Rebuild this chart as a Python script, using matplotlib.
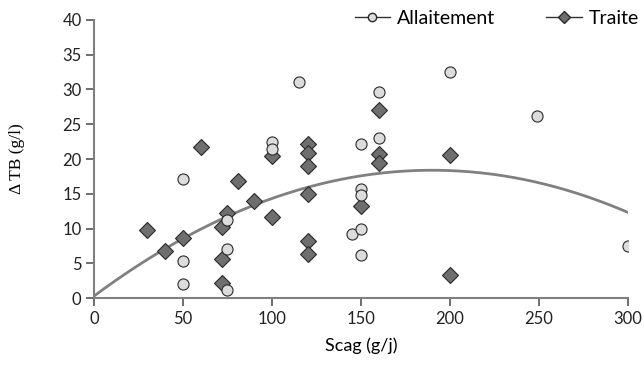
import numpy as np
import matplotlib
matplotlib.use("Agg")
import matplotlib.pyplot as plt

# data
allait_x = [50, 50, 50, 75, 75, 75, 100, 100, 115, 145, 150, 150, 150, 150, 150, 160, 160, 200, 249, 300]
allait_y = [17.2, 5.3, 2.1, 11.3, 7.1, 1.2, 22.4, 21.4, 31.1, 9.2, 22.2, 15.7, 14.8, 10.0, 6.2, 29.6, 23.0, 32.5, 26.2, 7.5]

traite_x = [30, 40, 50, 60, 72, 75, 72, 72, 81, 90, 100, 100, 120, 120, 120, 120, 120, 120, 150, 160, 160, 160, 200, 200]
traite_y = [9.8, 6.8, 8.6, 21.7, 10.2, 12.2, 5.6, 2.2, 16.8, 14.0, 20.5, 11.7, 22.1, 20.8, 19.0, 15.0, 8.2, 6.4, 13.3, 27.0, 20.7, 19.5, 20.6, 3.3]

# quadratic trend line coefficients (c0, c1, c2)
trend_coef = [0.3, 0.1904, -0.000501]

GREY = "#808080"

fig = plt.figure(figsize=(6.44, 3.69), dpi=100)
ax = fig.add_axes([0.146, 0.192, 0.829, 0.754])

xs = np.linspace(0, 300, 200)
ax.plot(xs, trend_coef[0] + trend_coef[1] * xs + trend_coef[2] * xs ** 2,
        color=GREY, linewidth=2, zorder=2)

ax.plot(traite_x, traite_y, linestyle="none", marker="D", markersize=7.8,
        markerfacecolor="#6e6e6e", markeredgecolor="#2a2a2a", markeredgewidth=0.8,
        zorder=3)
ax.plot(allait_x, allait_y, linestyle="none", marker="o", markersize=8,
        markerfacecolor="#dcdcdc", markeredgecolor="#2a2a2a", markeredgewidth=0.8,
        zorder=4)

# legend handles with line through the marker
h1, = ax.plot([], [], color="#333333", linewidth=1, marker="o", markersize=6,
              markerfacecolor="#dcdcdc", markeredgecolor="#2a2a2a")
h2, = ax.plot([], [], color="#333333", linewidth=1, marker="D", markersize=6,
              markerfacecolor="#6e6e6e", markeredgecolor="#2a2a2a")
fig.legend([h1, h2], ["Allaitement", "Traite"], loc="center right",
           bbox_to_anchor=(639 / 644, 1 - 18 / 369), ncol=2, frameon=False,
           handlelength=1.85, handletextpad=0.35, columnspacing=2.6,
           borderpad=0, borderaxespad=0,
           prop={"family": "Lato", "size": 14})

ax.set_xlim(0, 300)
ax.set_ylim(0, 40)
ax.set_xticks(range(0, 301, 50))
ax.set_yticks(range(0, 41, 5))

for s in ["top", "right"]:
    ax.spines[s].set_visible(False)
for s in ["left", "bottom"]:
    ax.spines[s].set_color(GREY)
    ax.spines[s].set_linewidth(1.5)
ax.tick_params(colors="#555555", direction="out", length=6, width=1.2,
               labelcolor="#222222", labelsize=12, pad=3)
for lab in ax.get_xticklabels() + ax.get_yticklabels():
    lab.set_family("Lato")

ax.set_xlabel("Scag (g/j)", fontsize=13, family="Lato", labelpad=8)
ax.set_ylabel("Δ TB (g/l)", fontsize=12.5, family="Liberation Serif", labelpad=27)

fig.savefig("out.png", dpi=100)
